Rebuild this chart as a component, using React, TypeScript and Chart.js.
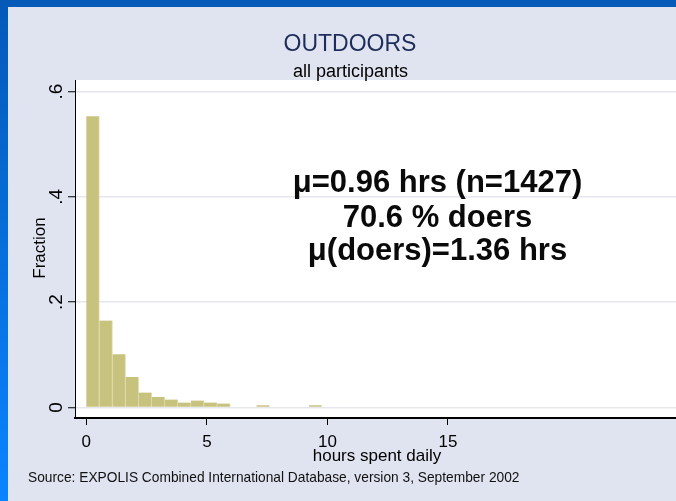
import React, { useEffect, useRef } from "react";
import { Chart, registerables } from "chart.js";

Chart.register(...registerables);

// ---- data ----
const binWidth = 0.543; // hours per histogram bin
const binFractions = [
  0.553, 0.165, 0.101, 0.058, 0.0285, 0.02, 0.015, 0.0095, 0.0133, 0.0095, 0.0076,
  0, 0, 0.004, 0, 0, 0, 0.004, 0, 0, 0, 0, 0, 0, 0, 0, 0, 0, 0, 0, 0,
];
const xTickValues = [0, 5, 10, 15];
const xTickLabels = ["0", "5", "10", "15"];
const yTickValues = [0, 0.2, 0.4, 0.6];
const yTickLabels = ["0", ".2", ".4", ".6"];
const titleText = "OUTDOORS";
const subtitleText = "all participants";
const annotationLines = ["μ=0.96 hrs (n=1427)", "70.6 % doers", "μ(doers)=1.36 hrs"];
const xAxisTitle = "hours spent daily";
const yAxisTitle = "Fraction";
const sourceText =
  "Source: EXPOLIS Combined International Database, version 3, September 2002";

const FONT = "'Liberation Sans', Arial, Helvetica, sans-serif";
const W = 676;
const H = 501;

const decorPlugin = {
  id: "decor",
  beforeDraw(chart: any) {
    const ctx = chart.ctx as CanvasRenderingContext2D;
    const a = chart.chartArea;
    ctx.save();
    ctx.fillStyle = "#E0E4F0";
    ctx.fillRect(0, 0, W, H);
    ctx.fillStyle = "#0559B7";
    ctx.fillRect(0, 0, W, 7);
    const g = ctx.createLinearGradient(0, 0, 0, H);
    g.addColorStop(0, "#0559B7");
    g.addColorStop(1, "#0A84FF");
    ctx.fillStyle = g;
    ctx.fillRect(0, 0, 8, H);
    ctx.fillStyle = "#FFFFFF";
    ctx.fillRect(a.left, a.top, a.right - a.left, a.bottom - a.top);
    ctx.restore();
  },
  afterDraw(chart: any) {
    const ctx = chart.ctx as CanvasRenderingContext2D;
    const xs = chart.scales.x;
    const ys = chart.scales.y;
    ctx.save();
    ctx.textAlign = "center";
    ctx.textBaseline = "alphabetic";

    ctx.fillStyle = "#1F2D5A";
    ctx.font = `23px ${FONT}`;
    ctx.fillText(titleText, 350, 50.5);

    ctx.fillStyle = "#000";
    ctx.font = `18px ${FONT}`;
    ctx.fillText(subtitleText, 350.5, 76.5);

    ctx.fillStyle = "#0A0A0A";
    ctx.font = `bold 31px ${FONT}`;
    const baselines = [192, 226.5, 260];
    annotationLines.forEach((t, i) => ctx.fillText(t, 437.5, baselines[i]));

    ctx.fillStyle = "#000";
    ctx.font = `17px ${FONT}`;
    xTickValues.forEach((v, i) => {
      ctx.fillText(xTickLabels[i], xs.getPixelForValue(v), 446.5);
    });
    ctx.fillText(xAxisTitle, 377, 461);

    ctx.font = `19px ${FONT}`;
    yTickValues.forEach((v, i) => {
      ctx.save();
      ctx.translate(61.5, ys.getPixelForValue(v));
      ctx.rotate(-Math.PI / 2);
      ctx.fillText(yTickLabels[i], 0, 0);
      ctx.restore();
    });

    ctx.font = `17px ${FONT}`;
    ctx.save();
    ctx.translate(45, 248);
    ctx.rotate(-Math.PI / 2);
    ctx.fillText(yAxisTitle, 0, 0);
    ctx.restore();

    ctx.textAlign = "left";
    ctx.font = `13.75px ${FONT}`;
    ctx.fillStyle = "#111";
    ctx.fillText(sourceText, 28, 482);
    ctx.restore();
  },
};

export default function App() {
  const ref = useRef<HTMLCanvasElement | null>(null);

  useEffect(() => {
    if (!ref.current) return;
    const chart = new Chart(ref.current, {
      type: "bar",
      data: {
        datasets: [
          {
            data: binFractions.map((v, i) => ({ x: (i + 0.5) * binWidth, y: v })),
            backgroundColor: "#C8C27F",
            borderColor: "#E4E0B4",
            borderWidth: { left: 0, right: 1, top: 0, bottom: 0 },
            barPercentage: 1,
            categoryPercentage: 1,
          } as any,
        ],
      },
      plugins: [decorPlugin],
      options: {
        animation: false,
        responsive: false,
        devicePixelRatio: 1,
        layout: { padding: { top: 80, left: 0, right: 0, bottom: 0 } },
        plugins: { legend: { display: false }, tooltip: { enabled: false }, title: { display: false } },
        scales: {
          x: {
            type: "linear",
            min: -0.47,
            max: 24.46,
            offset: false,
            afterBuildTicks: (s: any) => {
              s.ticks = xTickValues.map((v) => ({ value: v }));
            },
            afterFit: (s: any) => {
              s.height = H - 418;
            },
            ticks: { display: false },
            grid: {
              drawOnChartArea: false,
              drawTicks: true,
              tickLength: 7,
              tickColor: "#000",
              tickWidth: 1,
              offset: false,
            },
            border: { display: true, color: "#000", width: 2 },
          },
          y: {
            type: "linear",
            min: -0.02,
            max: 0.622,
            afterBuildTicks: (s: any) => {
              s.ticks = yTickValues.map((v) => ({ value: v }));
            },
            afterFit: (s: any) => {
              s.width = 75;
            },
            ticks: { display: false },
            grid: {
              color: "#E6E6EF",
              lineWidth: 1.5,
              drawTicks: true,
              tickLength: 7,
              tickColor: "#000",
              tickWidth: 1,
            },
            border: { display: true, color: "#000", width: 1 },
          },
        },
      } as any,
    });
    return () => chart.destroy();
  }, []);

  return (
    <div style={{ position: "absolute", left: 0, top: 0, width: W, height: H }}>
      <canvas ref={ref} width={W} height={H} style={{ width: W, height: H, display: "block" }} />
    </div>
  );
}
